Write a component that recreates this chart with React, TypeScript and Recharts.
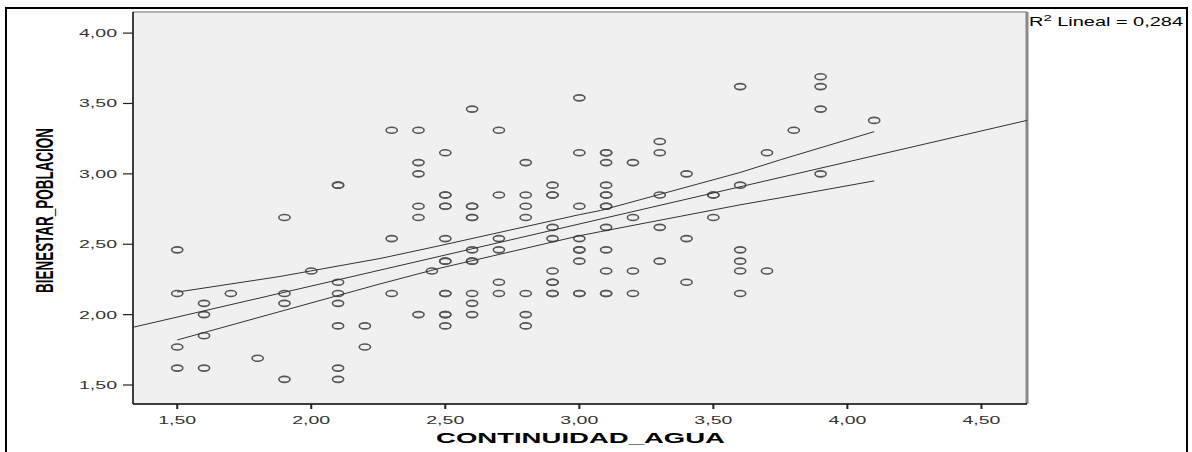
import React from 'react';
import { ScatterChart, Scatter, XAxis, YAxis, CartesianGrid, ReferenceLine } from 'recharts';

// CONTINUIDAD_AGUA levels and the BIENESTAR_POBLACION values seen at each one
const xLevels = [1.5, 1.6, 1.7, 1.8, 1.9, 2.0, 2.1, 2.2, 2.3, 2.4, 2.45, 2.5, 2.6, 2.7, 2.8, 2.9, 3.0, 3.1, 3.2, 3.3, 3.4, 3.5, 3.6, 3.7, 3.8, 3.9, 4.1];
const yAtLevel = [
    [2.46, 2.15, 1.77, 1.62],
    [2.08, 2.0, 1.85, 1.62],
    [2.15],
    [1.69],
    [2.69, 2.15, 2.08, 1.54],
    [2.31],
    [2.92, 2.92, 2.23, 2.15, 2.08, 1.92, 1.62, 1.54],
    [1.92, 1.77],
    [3.31, 2.54, 2.15],
    [3.31, 3.08, 3.0, 2.77, 2.69, 2.0],
    [2.31],
    [3.15, 2.85, 2.85, 2.77, 2.77, 2.54, 2.38, 2.38, 2.15, 2.15, 2.0, 2.0, 1.92],
    [3.46, 2.77, 2.77, 2.69, 2.69, 2.46, 2.38, 2.38, 2.15, 2.08, 2.0],
    [3.31, 2.85, 2.54, 2.46, 2.23, 2.15],
    [3.08, 2.85, 2.77, 2.69, 2.15, 2.0, 1.92],
    [2.92, 2.85, 2.85, 2.62, 2.54, 2.31, 2.23, 2.23, 2.15, 2.15],
    [3.54, 3.15, 2.77, 2.54, 2.46, 2.46, 2.38, 2.15, 2.15],
    [3.15, 3.15, 3.08, 2.92, 2.85, 2.85, 2.77, 2.77, 2.62, 2.46, 2.31, 2.15, 2.15],
    [3.08, 2.69, 2.31, 2.15],
    [3.23, 3.15, 2.85, 2.62, 2.38],
    [3.0, 2.54, 2.23],
    [2.85, 2.85, 2.69],
    [3.62, 2.92, 2.46, 2.38, 2.31, 2.15],
    [3.15, 2.31],
    [3.31],
    [3.69, 3.62, 3.46, 3.0],
    [3.38],
];

// linear fit, drawn edge to edge
const fitX = [1.335, 4.67];
const fitY = [1.91, 3.38];

// 95% band around the fit
const bandX = [1.5, 1.88, 2.26, 2.48, 3.0, 3.08, 3.6, 3.75, 4.1];
const bandUpper = [2.16, 2.27, 2.4, 2.49, 2.71, 2.74, 3.01, 3.1, 3.3];
const bandLower = [1.82, 2.02, 2.22, 2.33, 2.56, 2.59, 2.78, 2.83, 2.95];

const xTicks = [1.5, 2.0, 2.5, 3.0, 3.5, 4.0, 4.5];
const yTicks = [1.5, 2.0, 2.5, 3.0, 3.5, 4.0];

const points = xLevels.flatMap((x, i) => yAtLevel[i].map(y => ({ x, y })));
const fitLine = fitX.map((x, i) => ({ x, y: fitY[i] }));
const upperLine = bandX.map((x, i) => ({ x, y: bandUpper[i] }));
const lowerLine = bandX.map((x, i) => ({ x, y: bandLower[i] }));

const FONT = '"Liberation Sans", Arial, sans-serif';
const fmt = (v: number) => v.toFixed(2).replace('.', ',');

const Ring = (props: any) => (
    <ellipse cx={props.cx} cy={props.cy} rx={5.6} ry={3} fill="none" stroke="#555" strokeWidth={1.6} />
);
const NoDot = () => <g />;

const XTick = (props: any) => (
    <text x={props.x} y={props.y + 13} textAnchor="middle" fontSize={11} fontFamily={FONT} fill="#333"
        textLength={38} lengthAdjust="spacingAndGlyphs">
        {fmt(props.payload.value)}
    </text>
);

const YTick = (props: any) => (
    <text x={props.x - 4} y={props.y + 4} textAnchor="end" fontSize={11} fontFamily={FONT} fill="#333"
        textLength={38} lengthAdjust="spacingAndGlyphs">
        {fmt(props.payload.value)}
    </text>
);

const App = () => {
    return (
        <div style={{ position: 'absolute', left: 0, top: 0, width: 1192, height: 452, background: '#fff', overflow: 'hidden' }}>
            <div style={{ position: 'absolute', left: 5, top: 7, width: 1179, height: 460, border: '2px solid #000' }} />
            <div style={{ position: 'absolute', left: 0, top: 0 }}>
                <ScatterChart width={1192} height={452} margin={{ top: 12, right: 165, bottom: 18, left: 73 }}>
                    <CartesianGrid fill="#f0f0f0" horizontal={false} vertical={false} />
                    <XAxis
                        type="number"
                        dataKey="x"
                        domain={[1.335, 4.67]}
                        ticks={xTicks}
                        allowDataOverflow
                        height={30}
                        tickSize={5}
                        axisLine={{ stroke: '#000', strokeWidth: 1.5 }}
                        tickLine={{ stroke: '#222', strokeWidth: 2 }}
                        tick={<XTick />}
                        label={{
                            content: () => (
                                <text x={580.5} y={443} textAnchor="middle" fontSize={15} fontWeight="bold"
                                    fontFamily={FONT} fill="#000" textLength={289} lengthAdjust="spacingAndGlyphs">
                                    CONTINUIDAD_AGUA
                                </text>
                            ),
                        }}
                    />
                    <YAxis
                        type="number"
                        dataKey="y"
                        domain={[1.365, 4.15]}
                        ticks={yTicks}
                        allowDataOverflow
                        width={60}
                        tickSize={10}
                        axisLine={{ stroke: '#000', strokeWidth: 1.5 }}
                        tickLine={{ stroke: '#222', strokeWidth: 1.2 }}
                        tick={<YTick />}
                        label={{
                            content: () => (
                                <text transform="translate(53,210.5) rotate(-90)" textAnchor="middle" fontSize={24}
                                    fontWeight="bold" fontFamily={FONT} fill="#000" textLength={165}
                                    lengthAdjust="spacingAndGlyphs">
                                    BIENESTAR_POBLACION
                                </text>
                            ),
                        }}
                    />
                    <ReferenceLine y={4.15} stroke="#9a9a9a" strokeWidth={1.5} />
                    <ReferenceLine x={4.67} stroke="#888" strokeWidth={3} />
                    <Scatter data={points} shape={<Ring />} isAnimationActive={false} />
                    <Scatter data={fitLine} line={{ stroke: '#333', strokeWidth: 1 }} shape={<NoDot />} isAnimationActive={false} />
                    <Scatter data={upperLine} line={{ stroke: '#333', strokeWidth: 1 }} shape={<NoDot />} isAnimationActive={false} />
                    <Scatter data={lowerLine} line={{ stroke: '#333', strokeWidth: 1 }} shape={<NoDot />} isAnimationActive={false} />
                </ScatterChart>
            </div>
            <svg width={1192} height={452} style={{ position: 'absolute', left: 0, top: 0, pointerEvents: 'none' }}>
                <text x={1029} y={26} fontSize={12} fontFamily={FONT} fill="#000" textLength={154} lengthAdjust="spacingAndGlyphs">
                    R<tspan dy={-5} fontSize={9}>2</tspan><tspan dy={5}> Lineal = 0,284</tspan>
                </text>
            </svg>
        </div>
    );
};

export default App;
